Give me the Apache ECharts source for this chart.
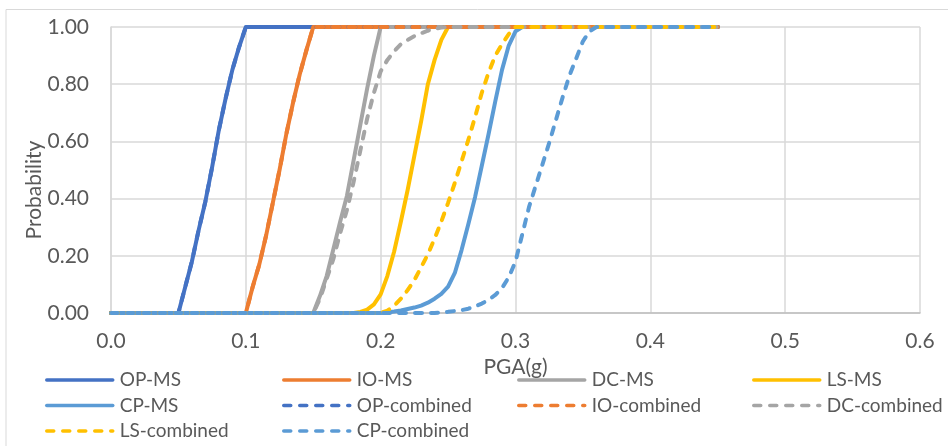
<!DOCTYPE html>
<html>
<head>
<meta charset="utf-8">
<script src="https://cdn.jsdelivr.net/npm/echarts@6/dist/echarts.min.js"></script>
<style>
  html, body { margin: 0; padding: 0; background: #ffffff; }
  #chart { width: 948px; height: 446px; }
</style>
</head>
<body>
<div id="chart"></div>
<script>
// Fragility curves: probability of exceeding each limit state vs. PGA (g)

// Axis ticks
const xTicks = [0, 0.1, 0.2, 0.3, 0.4, 0.5, 0.6];
const yTicks = [0, 0.2, 0.4, 0.6, 0.8, 1.0];

// OP - mainshock
const opMsPga  = [0, 0.05, 0.055, 0.06, 0.065, 0.07, 0.075, 0.08, 0.085, 0.09, 0.095, 0.1, 0.45];
const opMsProb = [0, 0, 0.09, 0.18, 0.29, 0.39, 0.51, 0.64, 0.75, 0.85, 0.93, 1, 1];

// IO - mainshock
const ioMsPga  = [0, 0.1, 0.105, 0.11, 0.115, 0.12, 0.125, 0.13, 0.135, 0.14, 0.145, 0.15, 0.45];
const ioMsProb = [0, 0, 0.09, 0.17, 0.27, 0.385, 0.5, 0.625, 0.735, 0.835, 0.92, 1, 1];

// DC - mainshock
const dcMsPga  = [0, 0.15, 0.155, 0.16, 0.165, 0.17, 0.175, 0.18, 0.185, 0.19, 0.195, 0.2, 0.45];
const dcMsProb = [0, 0, 0.06, 0.13, 0.225, 0.32, 0.41, 0.535, 0.66, 0.785, 0.9, 1, 1];

// LS - mainshock
const lsMsPga  = [0, 0.18, 0.185, 0.19, 0.195, 0.2, 0.205, 0.21, 0.215, 0.22, 0.225, 0.23, 0.235, 0.24, 0.245, 0.25, 0.45];
const lsMsProb = [0, 0, 0.004, 0.012, 0.03, 0.065, 0.13, 0.215, 0.32, 0.43, 0.55, 0.67, 0.8, 0.885, 0.955, 1, 1];

// CP - mainshock
const cpMsPga  = [0, 0.2, 0.205, 0.21, 0.215, 0.22, 0.225, 0.23, 0.235, 0.24, 0.245, 0.25, 0.255, 0.26, 0.265, 0.27, 0.275, 0.28, 0.285, 0.29, 0.295, 0.3, 0.305, 0.45];
const cpMsProb = [0, 0, 0.002, 0.005, 0.009, 0.014, 0.019, 0.026, 0.036, 0.05, 0.067, 0.092, 0.14, 0.22, 0.31, 0.405, 0.515, 0.625, 0.74, 0.85, 0.935, 0.985, 1, 1];

// OP - combined
const opCombPga  = [0, 0.05, 0.055, 0.06, 0.065, 0.07, 0.075, 0.08, 0.085, 0.09, 0.095, 0.1, 0.45];
const opCombProb = [0, 0, 0.09, 0.18, 0.29, 0.39, 0.51, 0.64, 0.75, 0.85, 0.93, 1, 1];

// IO - combined
const ioCombPga  = [0, 0.1, 0.105, 0.11, 0.115, 0.12, 0.125, 0.13, 0.135, 0.14, 0.145, 0.15, 0.45];
const ioCombProb = [0, 0, 0.09, 0.17, 0.27, 0.385, 0.5, 0.625, 0.735, 0.835, 0.92, 1, 1];

// DC - combined
const dcCombPga  = [0, 0.15, 0.155, 0.16, 0.165, 0.17, 0.175, 0.18, 0.185, 0.19, 0.195, 0.2, 0.205, 0.21, 0.215, 0.22, 0.225, 0.23, 0.235, 0.24, 0.245, 0.25, 0.45];
const dcCombProb = [0, 0, 0.05, 0.12, 0.19, 0.28, 0.36, 0.46, 0.57, 0.68, 0.77, 0.845, 0.885, 0.915, 0.94, 0.955, 0.968, 0.978, 0.987, 0.994, 0.998, 1, 1];

// LS - combined
const lsCombPga  = [0, 0.2, 0.205, 0.21, 0.215, 0.22, 0.225, 0.23, 0.235, 0.24, 0.245, 0.25, 0.255, 0.26, 0.265, 0.27, 0.275, 0.28, 0.285, 0.29, 0.295, 0.3, 0.45];
const lsCombProb = [0, 0, 0.008, 0.025, 0.05, 0.08, 0.115, 0.16, 0.205, 0.26, 0.32, 0.385, 0.455, 0.53, 0.605, 0.685, 0.77, 0.84, 0.9, 0.94, 0.975, 1, 1];

// CP - combined
const cpCombPga  = [0, 0.24, 0.245, 0.25, 0.255, 0.26, 0.265, 0.27, 0.275, 0.28, 0.285, 0.29, 0.295, 0.3, 0.305, 0.31, 0.315, 0.32, 0.325, 0.33, 0.335, 0.34, 0.345, 0.35, 0.355, 0.36, 0.45];
const cpCombProb = [0, 0, 0.002, 0.004, 0.007, 0.01, 0.015, 0.023, 0.033, 0.046, 0.063, 0.087, 0.125, 0.18, 0.275, 0.37, 0.445, 0.52, 0.595, 0.675, 0.755, 0.83, 0.89, 0.95, 0.985, 1, 1];

const FONT = 'Lato, "Liberation Sans", sans-serif';
const TEXT = '#595959';
const LINE_W = 4;
const DASH = [7, 9];
const C = { op: '#4472C4', io: '#ED7D31', dc: '#A5A5A5', ls: '#FFC000', cp: '#5B9BD5' };

function curve(name, pga, prob, color, dashed) {
  return {
    name: name,
    type: 'line',
    data: pga.map((x, i) => [x, prob[i]]),
    showSymbol: false,
    symbol: 'none',
    smooth: false,
    clip: false,
    lineStyle: { color: color, width: LINE_W, type: dashed ? DASH : 'solid', cap: 'round', join: 'round' },
    itemStyle: { color: color },
    emphasis: { disabled: true }
  };
}

const series = [
  curve('OP-MS', opMsPga, opMsProb, C.op, false),
  curve('IO-MS', ioMsPga, ioMsProb, C.io, false),
  curve('DC-MS', dcMsPga, dcMsProb, C.dc, false),
  curve('LS-MS', lsMsPga, lsMsProb, C.ls, false),
  curve('CP-MS', cpMsPga, cpMsProb, C.cp, false),
  curve('OP-combined', opCombPga, opCombProb, C.op, true),
  curve('IO-combined', ioCombPga, ioCombProb, C.io, true),
  curve('DC-combined', dcCombPga, dcCombProb, C.dc, true),
  curve('LS-combined', lsCombPga, lsCombProb, C.ls, true),
  curve('CP-combined', cpCombPga, cpCombProb, C.cp, true)
];

// Four legend columns laid out as a 4 x 3 grid of entries
const legendBase = {
  orient: 'vertical',
  top: 370,
  itemWidth: 66,
  itemHeight: 14,
  itemGap: 5.5,
  padding: 0,
  selectedMode: false,
  itemStyle: { opacity: 0 },
  lineStyle: { width: 3.5 },
  textStyle: { fontFamily: FONT, fontSize: 19, color: TEXT, lineHeight: 20, padding: [0, 0, 0, 2] }
};

const chart = echarts.init(document.getElementById('chart'), null, { renderer: 'canvas' });
chart.setOption({
  animation: false,
  backgroundColor: '#ffffff',
  textStyle: { fontFamily: FONT },
  grid: { left: 111, right: 28, top: 27, bottom: 133 },
  xAxis: {
    type: 'value',
    min: xTicks[0],
    max: xTicks[xTicks.length - 1],
    interval: 0.1,
    axisTick: { show: false },
    axisLine: { show: true, lineStyle: { color: '#bfbfbf', width: 1.5 } },
    splitLine: { show: true, lineStyle: { color: '#d9d9d9', width: 1.5 } },
    axisLabel: { fontFamily: FONT, fontSize: 21, color: TEXT, margin: 18, formatter: v => v.toFixed(1) },
    name: 'PGA(g)',
    nameLocation: 'middle',
    nameGap: 43,
    nameTextStyle: { fontFamily: FONT, fontSize: 21, color: TEXT }
  },
  yAxis: {
    type: 'value',
    min: yTicks[0],
    max: yTicks[yTicks.length - 1],
    interval: 0.2,
    axisTick: { show: false },
    axisLine: { show: true, lineStyle: { color: '#d9d9d9', width: 1.5 } },
    splitLine: { show: true, lineStyle: { color: '#d9d9d9', width: 1.5 } },
    axisLabel: { fontFamily: FONT, fontSize: 21, color: TEXT, margin: 22, formatter: v => v.toFixed(2) }
  },
  legend: [
    Object.assign({}, legendBase, { left: 45,  data: ['OP-MS', 'CP-MS', 'LS-combined'] }),
    Object.assign({}, legendBase, { left: 282, data: ['IO-MS', 'OP-combined', 'CP-combined'] }),
    Object.assign({}, legendBase, { left: 517, data: ['DC-MS', 'IO-combined'] }),
    Object.assign({}, legendBase, { left: 752, data: ['LS-MS', 'DC-combined'] })
  ],
  graphic: [
    {
      type: 'rect',
      silent: true,
      shape: { x: 6, y: 9.5, width: 1000, height: 500 },
      style: { fill: 'none', stroke: '#d9d9d9', lineWidth: 1 }
    },
    {
      type: 'text',
      silent: true,
      x: 34,
      y: 190,
      rotation: Math.PI / 2,
      style: {
        text: 'Probability',
        fontFamily: FONT,
        fontSize: 21,
        fill: TEXT,
        align: 'center',
        verticalAlign: 'middle'
      }
    }
  ],
  series: series
});
</script>
</body>
</html>
